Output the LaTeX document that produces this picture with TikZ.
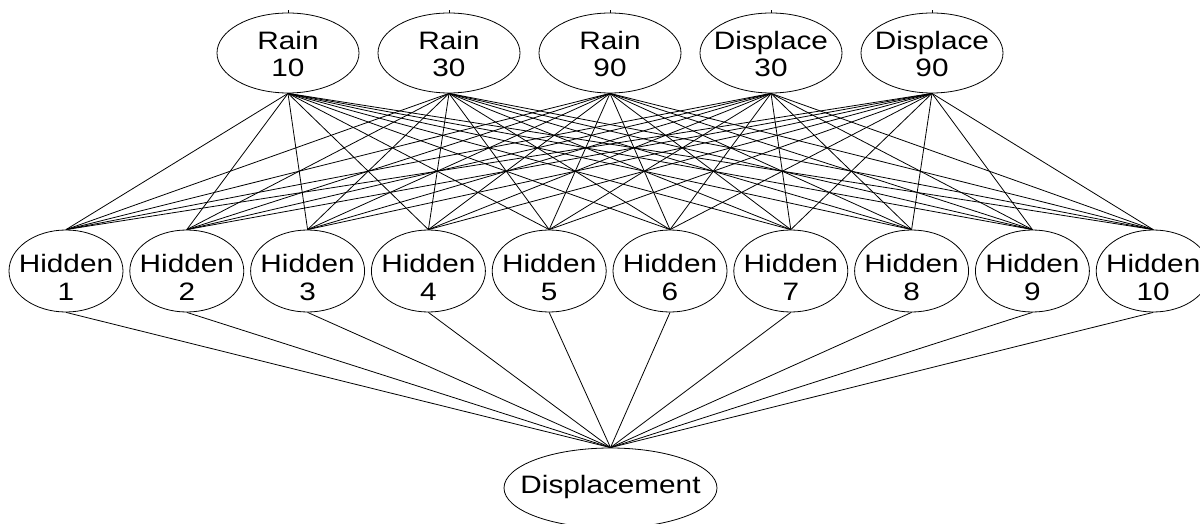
\documentclass[tikz,border=0pt]{standalone}
\usepackage{fontspec}
\setmainfont{Liberation Sans}[FakeStretch=1.18]
\usetikzlibrary{shapes.geometric}

\begin{document}
\begin{tikzpicture}[x=0.5pt,y=-0.5pt,
    unit/.style={ellipse,draw,inner sep=0pt},
    lbl/.style={inner sep=0pt,align=center,font=\fontsize{12.6}{13.5}\selectfont}]
    \useasboundingbox (0,0) rectangle (1200,524);
    % Input layer
    \foreach \a/\b [count=\i] in {Rain/10,Rain/30,Rain/90,Displace/30,Displace/90} {
      \node[unit,minimum width=71pt,minimum height=40pt]
        (in\i) at ({288+(\i-1)*161},53) {};
      \node[lbl] (lin\i) at ([yshift=-0.7pt]in\i.center) {\a\\\b};
    }
    % Hidden layer
    \foreach \i in {1,...,10} {
      \node[unit,minimum width=57pt,minimum height=41pt]
        (h\i) at ({66+(\i-1)*120.8},271) {};
      \node[lbl,font=\fontsize{12.6}{14}\selectfont]
        (lh\i) at ([yshift=-3pt]h\i.center) {Hidden\\\i};
    }
    % Output
    \node[unit,minimum width=106.5pt,minimum height=40pt]
      (out) at (610.5,488) {};
    \node[lbl] (lout) at ([yshift=0.5pt]out.center) {Displacement};
    % Wires
    \foreach \i in {1,...,5} {
      \draw (in\i.north) -- ++(0,-3);
      \foreach \j in {1,...,10}
        \draw (in\i.south) -- (h\j.north);
    }
    \foreach \j in {1,...,10}
      \draw (h\j.south) -- (out.north);
  \end{tikzpicture}
\end{document}
